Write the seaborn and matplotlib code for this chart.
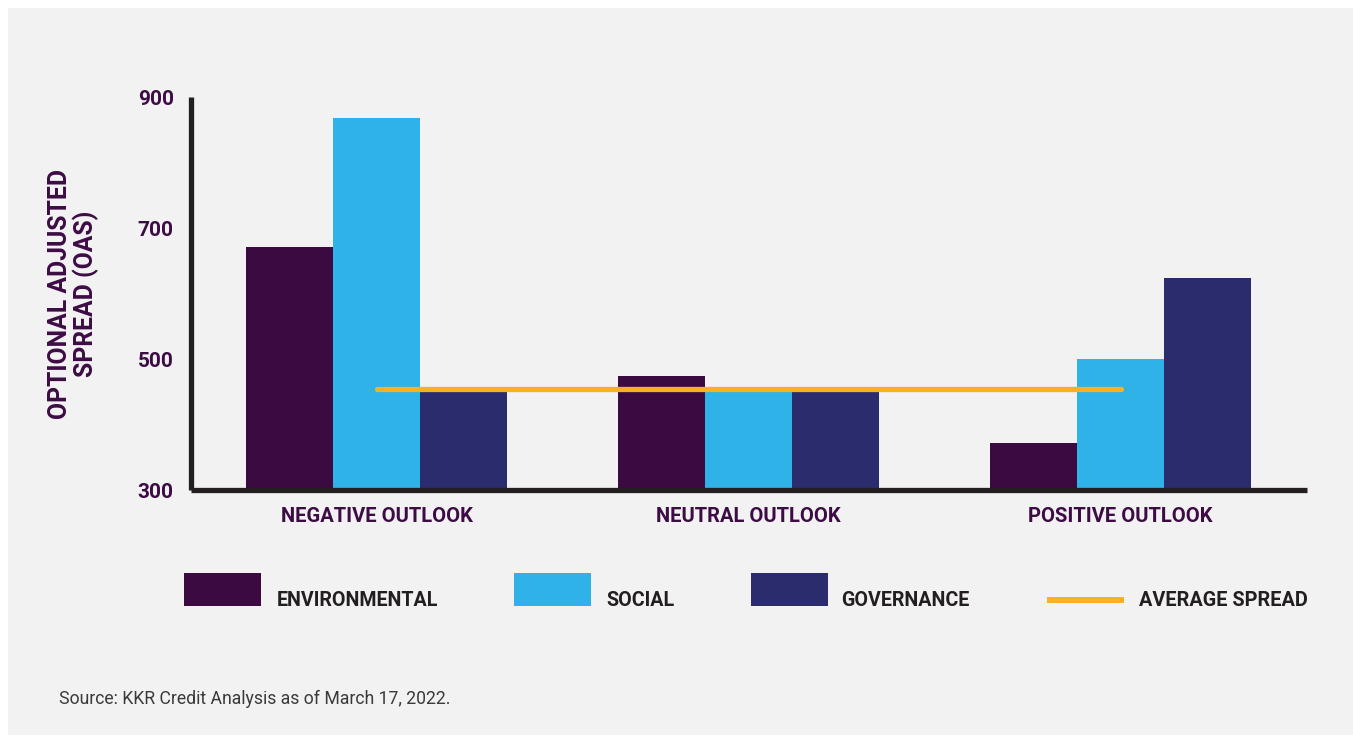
import pandas as pd
import seaborn as sns
import matplotlib.pyplot as plt
from matplotlib.patches import Rectangle
from matplotlib.lines import Line2D

# Data
outlooks = ["NEGATIVE OUTLOOK", "NEUTRAL OUTLOOK", "POSITIVE OUTLOOK"]
environmental = [671, 475, 372]
social = [868, 450, 500]
governance = [450, 450, 624]
average_spread = 454

factors = ["ENVIRONMENTAL", "SOCIAL", "GOVERNANCE"]
colors = ["#3b0a40", "#2eb2e8", "#2a2c6e"]
avg_color = "#fbb024"
avg_label = "AVERAGE SPREAD"
y_ticks = [300, 500, 700, 900]

df = pd.DataFrame({
    "outlook": outlooks * 3,
    "factor": [f for f in factors for _ in outlooks],
    "oas": environmental + social + governance,
})

sns.set_theme(style="white")
plt.rcParams["font.family"] = ["Roboto", "DejaVu Sans"]

bg = "#f2f2f2"
purple = "#3d0c45"
dark = "#231f20"

fig = plt.figure(figsize=(13.53, 7.36), dpi=100)
fig.patch.set_facecolor("white")
fig.patches.append(Rectangle((8 / 1353, 1 / 736), 1, 727 / 736, transform=fig.transFigure,
                             facecolor=bg, edgecolor="none", zorder=-10))

ax = fig.add_axes([0.1408, 0.3336, 0.825, 0.5346])
ax.set_facecolor(bg)

sns.barplot(data=df, x="outlook", y="oas", hue="factor", palette=colors,
            width=0.7, saturation=1, linewidth=0, legend=False, ax=ax, zorder=2)

# average line from first to last group centre
sns.lineplot(x=[0, len(outlooks) - 1], y=[average_spread] * 2, color=avg_color,
             linewidth=3.8, ax=ax, zorder=3)

ax.set_xlim(-0.5, len(outlooks) - 0.5)
ax.set_ylim(y_ticks[0], y_ticks[-1])
ax.set_yticks(y_ticks)
ax.set_yticklabels([str(t) for t in y_ticks])
ax.set_xlabel("")
ax.set_ylabel("OPTIONAL ADJUSTED\nSPREAD (OAS)", fontsize=17.8, fontweight="bold",
              color=purple, labelpad=28, linespacing=1.05)

for side in ["top", "right"]:
    ax.spines[side].set_visible(False)
for side in ["left", "bottom"]:
    ax.spines[side].set_color(dark)
    ax.spines[side].set_linewidth(3.8)
    ax.spines[side].set_capstyle("butt")

ax.tick_params(axis="both", length=0, colors=purple, labelsize=14.5)
ax.tick_params(axis="y", pad=12, labelsize=15)
ax.tick_params(axis="x", pad=12)
for lab in ax.get_xticklabels() + ax.get_yticklabels():
    lab.set_fontweight("bold")
    lab.set_color(purple)

# legend drawn by hand below the plot
W, H = 1353, 736
patch_x = [184, 514, 751]
text_x = [277, 606, 841]
for px, tx, col, lab in zip(patch_x, text_x, colors, factors):
    fig.patches.append(Rectangle((px / W, 1 - 606 / H), 77 / W, 33 / H,
                                 transform=fig.transFigure, facecolor=col, edgecolor="none"))
    fig.text(tx / W, 1 - 606 / H, lab, fontsize=14.1, fontweight="bold", color=dark,
             ha="left", va="baseline")
fig.lines.append(Line2D([1047 / W, 1124 / W], [1 - 600 / H] * 2, transform=fig.transFigure,
                        color=avg_color, linewidth=4.3, solid_capstyle="butt"))
fig.text(1139 / W, 1 - 606 / H, avg_label, fontsize=14.3, fontweight="bold", color=dark,
         ha="left", va="baseline")

fig.text(59 / W, 1 - 699 / H, "Source: KKR Credit Analysis as of March 17, 2022.",
         fontsize=12.7, color="#3a3a3a", ha="left", va="center")

fig.savefig("out.png", dpi=100, facecolor=fig.get_facecolor())
